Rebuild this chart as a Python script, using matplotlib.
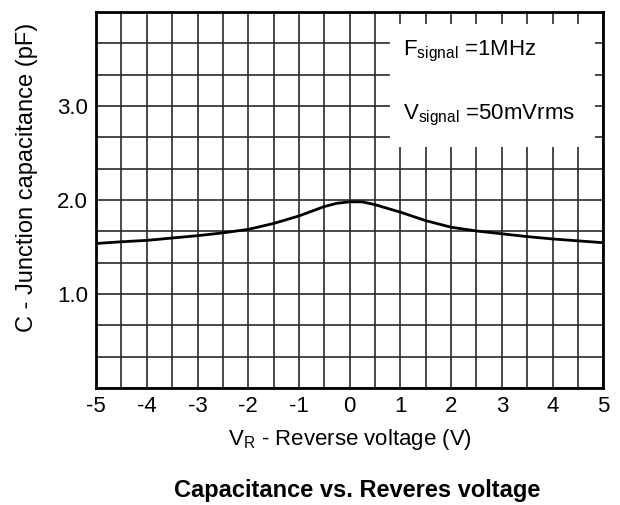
import matplotlib.pyplot as plt
import matplotlib.patches as patches
import numpy as np

plt.rcParams['font.family'] = ['Liberation Sans', 'DejaVu Sans']
plt.rcParams['mathtext.default'] = 'regular'

# values
vr = [-5, -4.5, -4, -3.5, -3, -2.5, -2, -1.5, -1, -0.5, -0.25, 0, 0.25, 0.5,
      0.75, 1, 1.5, 2, 2.5, 3, 3.5, 4, 4.5, 5]
cap = [1.537, 1.555, 1.57, 1.595, 1.62, 1.65, 1.687, 1.75, 1.83, 1.93, 1.965, 1.98,
       1.98, 1.95, 1.91, 1.87, 1.78, 1.71, 1.67, 1.64, 1.61, 1.585, 1.565, 1.545]
yticks = [1.0, 2.0, 3.0]
xticks = [-5, -4, -3, -2, -1, 0, 1, 2, 3, 4, 5]

fig = plt.figure(figsize=(6.2, 5.05), dpi=100)
ax = fig.add_axes([0.155, 0.232, 0.818, 0.744])

ax.set_xlim(-5, 5)
ax.set_ylim(0, 4)
ax.set_xticks(np.arange(-5, 5.01, 0.5), minor=True)
ax.set_yticks(np.arange(0, 4.01, 1/3), minor=True)
ax.set_xticks(xticks)
ax.set_xticklabels([str(v) for v in xticks])
ax.set_yticks(yticks)
ax.set_yticklabels(['%.1f' % v for v in yticks])
ax.grid(which='both', color='#2a2a2a', linewidth=1.2, zorder=1)
ax.tick_params(which='both', length=0, labelsize=16, pad=6)

# white box behind the signal notes
ax.add_patch(patches.Rectangle((0.8, 2.56), 4.04, 1.31, facecolor='white',
                               edgecolor='none', zorder=2))
ax.text(1.05, 3.58, 'F$_{signal}$ =1MHz', fontsize=16, zorder=3, va='center')
ax.text(1.05, 2.9, 'V$_{signal}$ =50mVrms', fontsize=16, zorder=3, va='center')

ax.plot(vr, cap, color='black', linewidth=2, zorder=4)

for s in ax.spines.values():
    s.set_linewidth(2)
    s.set_color('black')
    s.set_zorder(5)

ax.set_xlabel('V$_{R}$ - Reverse voltage (V)', fontsize=16, labelpad=7)
ax.set_ylabel('C - Junction capacitance (pF)', fontsize=17)
ax.yaxis.set_label_coords(-0.115, 0.56)
fig.text(0.576, 0.016, 'Capacitance vs. Reveres voltage', fontsize=17,
         fontweight='bold', ha='center')

fig.savefig('out.png', dpi=100)
